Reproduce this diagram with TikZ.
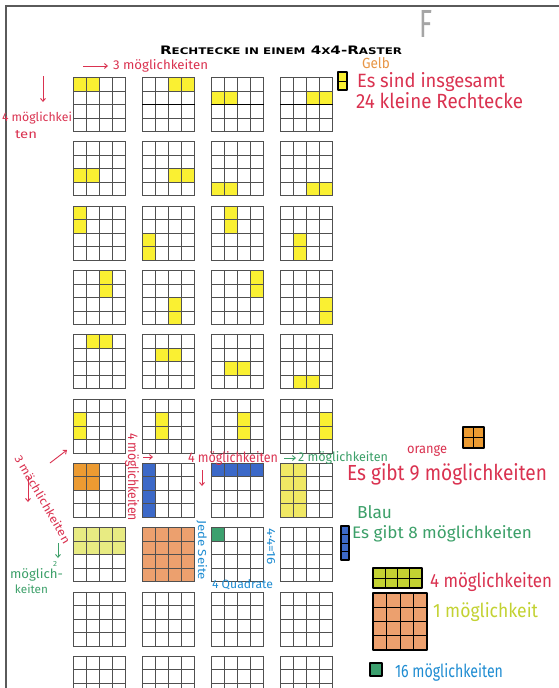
\documentclass[tikz,border=0pt]{standalone}
\usepackage{fontspec}
\setmainfont{Fira Sans}
\newfontfamily\titlefont{DejaVu Sans}
\usetikzlibrary{calc,arrows.meta}
\definecolor{gridc}{RGB}{80,80,80}
\definecolor{framec}{RGB}{90,90,90}
\definecolor{hy}{RGB}{250,240,50}
\definecolor{horange}{RGB}{236,155,50}
\definecolor{hblue}{RGB}{60,105,200}
\definecolor{hlyellow}{RGB}{240,232,100}
\definecolor{hpale}{RGB}{232,235,130}
\definecolor{horangeb}{RGB}{236,160,110}
\definecolor{hgreencell}{RGB}{60,160,110}
\definecolor{hred}{RGB}{218,50,80}
\definecolor{hgreen}{RGB}{60,160,105}
\definecolor{hbluet}{RGB}{30,140,210}
\definecolor{hgelb}{RGB}{232,150,70}
\definecolor{hlime}{RGB}{195,210,50}
\definecolor{hgray}{RGB}{165,165,165}
\newcommand\fitbox[3]{\resizebox{#1pt}{#2pt}{#3}}
\newcommand\hl[7]{\fill[#7] ({73.3+68.9*(#2)+13.125*(#3)},{77.5+64.3*(#1)+13.5*(#4)}) rectangle ({73.3+68.9*(#2)+13.125*(#5)},{77.5+64.3*(#1)+13.5*(#6)});}
\newcommand\smc[1]{{\fontsize{9}{10}\selectfont #1}}
\tikzset{
  gridbox/.style={draw=gridc, line width=0.8pt, minimum width=52.5pt, minimum height=54pt, inner sep=0pt, outer sep=0pt},
  gridline/.style={draw=gridc, line width=0.7pt},
  hw/.style={inner sep=0pt, outer sep=0pt, anchor=base west},
  harrow/.style={line width=0.9pt, -{Straight Barb[length=3pt,width=5pt]}},
  icon/.style={draw=black, line width=1.3pt, line join=round},
  iconline/.style={draw=black, line width=0.9pt}
}
\begin{document}
\begin{tikzpicture}[x=1pt,y=-1pt]
\useasboundingbox (0,0) rectangle (559,688);
\clip (0,0) rectangle (559,688);
\fill[white] (0,0) rectangle (559,688);
% frame
\draw[framec, line width=1.2pt] (6,688) -- (6,6) -- (559,6);
% title
\node[hw] (title) at (160,54) {\fitbox{242}{8.5}{\titlefont\bfseries\fontsize{11.5}{12}\selectfont R\smc{ECHTECKE IN EINEM} 4\smc{X}4-R\smc{ASTER}}};
\node[hw, text=hgray] (fmark) at (419,37) {\fitbox{13}{27}{F}};
% highlights
\hl{0}{0}{0}{0}{2}{1}{hy}\hl{0}{1}{2}{0}{4}{1}{hy}\hl{0}{2}{0}{1}{2}{2}{hy}\hl{0}{3}{2}{1}{4}{2}{hy}
\hl{1}{0}{0}{2}{2}{3}{hy}\hl{1}{1}{2}{2}{4}{3}{hy}\hl{1}{2}{0}{3}{2}{4}{hy}\hl{1}{3}{2}{3}{4}{4}{hy}
\hl{2}{0}{0}{0}{1}{2}{hy}\hl{2}{1}{0}{2}{1}{4}{hy}\hl{2}{2}{1}{0}{2}{2}{hy}\hl{2}{3}{1}{2}{2}{4}{hy}
\hl{3}{0}{2}{0}{3}{2}{hy}\hl{3}{1}{2}{2}{3}{4}{hy}\hl{3}{2}{3}{0}{4}{2}{hy}\hl{3}{3}{3}{2}{4}{4}{hy}
\hl{4}{0}{1}{0}{3}{1}{hy}\hl{4}{1}{1}{1}{3}{2}{hy}\hl{4}{2}{1}{2}{3}{3}{hy}\hl{4}{3}{1}{3}{3}{4}{hy}
\hl{5}{0}{0}{1}{1}{3}{hy}\hl{5}{1}{1}{1}{2}{3}{hy}\hl{5}{2}{2}{1}{3}{3}{hy}\hl{5}{3}{3}{1}{4}{3}{hy}
\hl{6}{0}{0}{0}{2}{2}{horange}\hl{6}{1}{0}{0}{1}{4}{hblue}\hl{6}{2}{0}{0}{4}{1}{hblue}\hl{6}{3}{0}{0}{2}{4}{hlyellow}
\hl{7}{0}{0}{0}{4}{2}{hpale}\hl{7}{1}{0}{0}{4}{4}{horangeb}\hl{7}{2}{0}{0}{1}{1}{hgreencell}
% grids
\foreach \r in {0,...,9}{\foreach \c in {0,...,3}{
  \node[gridbox] (g\r\c) at ({99.55+68.9*\c},{104.5+64.3*\r}) {};
  \foreach \i in {1,2,3}{
    \draw[gridline] ($(g\r\c.north west)!\i/4!(g\r\c.north east)$) -- ($(g\r\c.south west)!\i/4!(g\r\c.south east)$);
    \draw[gridline] ($(g\r\c.north west)!\i/4!(g\r\c.south west)$) -- ($(g\r\c.north east)!\i/4!(g\r\c.south east)$);
  }
}}
\foreach \c in {1,2,3}{\draw[black, line width=1.6pt] (g0\c.west) -- (g0\c.east);}
% top annotations
\coordinate (a1s) at (83,66); \coordinate (a1e) at (108,66);
\draw[hred, harrow] (a1s) -- (a1e);
\node[hw, text=hred] (t1) at (113,69) {\fitbox{95}{10}{3 möglichkeiten}};
\coordinate (a2s) at (43,76); \coordinate (a2e) at (43,102);
\draw[hred, harrow] (a2s) -- (a2e);
\node[hw, text=hred] (t2) at (2,121) {\fitbox{70}{9.5}{4 möglichkei}};
\node[hw, text=hred] (t3) at (15,138) {\fitbox{22}{8}{ten}};
% top right
\node[hw, text=hgelb] (gelb) at (362,68) {\fitbox{28}{11}{Gelb}};
\fill[hy] (338,72) rectangle (347,90);
\draw[icon] (338,72) rectangle (347,90);
\draw[iconline] (338,81) -- (347,81);
\node[hw, text=hred] (t5) at (357,87) {\fitbox{148}{15}{Es sind insgesamt}};
\node[hw, text=hred] (t6) at (356,108) {\fitbox{167}{16}{24 kleine Rechtecke}};
% left row 7 annotations
\node[hw, text=hred, rotate=-60] (t7) at (14,458) {\fitbox{100}{9}{3 mächlichkeiten}};
\coordinate (a3s) at (50,463); \coordinate (a3e) at (67,450);
\draw[hred, harrow] (a3s) -- (a3e);
\coordinate (a4s) at (28,477); \coordinate (a4e) at (28,502);
\draw[hred, harrow] (a4s) -- (a4e);
\node[hw, text=hred, rotate=-90] (t8) at (128,433) {\fitbox{88}{11}{4 möglichkeiten}};
\coordinate (a5s) at (143,457); \coordinate (a5e) at (153,457);
\draw[hred, harrow] (a5s) -- (a5e);
\node[hw, text=hred] (t10) at (188,462) {\fitbox{90}{11}{4 möglichkeiten}};
\coordinate (a6s) at (202,470); \coordinate (a6e) at (202,486);
\draw[hred, harrow] (a6s) -- (a6e);
\coordinate (a7s) at (284,458); \coordinate (a7e) at (296,458);
\draw[hgreen, harrow] (a7s) -- (a7e);
\node[hw, text=hgreen] (t12) at (298,461) {\fitbox{90}{10}{2 möglichkeiten}};
% right middle
\node[hw, text=hred] (t13) at (407,453) {\fitbox{40}{8}{orange}};
\fill[horange] (463,427) rectangle (484,448);
\draw[icon] (463,427) rectangle (484,448);
\draw[iconline] (473.5,427) -- (473.5,448) (463,437.5) -- (484,437.5);
\node[hw, text=hred] (t14) at (347,480) {\fitbox{200}{17}{Es gibt 9 möglichkeiten}};
\node[hw, text=hgreen] (t15) at (357,518) {\fitbox{35}{13}{Blau}};
\fill[hblue] (341,526) rectangle (349,560);
\draw[icon] (341,526) rectangle (349,560);
\draw[iconline] (341,534.5) -- (349,534.5) (341,543) -- (349,543) (341,551.5) -- (349,551.5);
\node[hw, text=hgreen] (t16) at (352,538) {\fitbox{180}{13}{Es gibt 8 möglichkeiten}};
% green left
\coordinate (a8s) at (58,543); \coordinate (a8e) at (58,558);
\draw[hgreen, harrow] (a8s) -- (a8e);
\node[hw, text=hgreen] (t20a) at (53,566) {\fitbox{4}{5}{2}};
\node[hw, text=hgreen] (t20b) at (10,578) {\fitbox{53}{10}{möglich-}};
\node[hw, text=hgreen] (t20c) at (15,593) {\fitbox{33}{9}{keiten}};
% blue annotations
\node[hw, text=hbluet, rotate=-90] (t21) at (198,520) {\fitbox{60}{9}{Jede Seite}};
\node[hw, text=hbluet, rotate=-90] (t22) at (267,528) {\fitbox{37}{8}{4·4=16}};
\node[hw, text=hbluet] (t23) at (212,588) {\fitbox{61}{9}{4 Quadrate}};
% bottom right icons
\fill[hlime] (373,568) rectangle (422,588);
\draw[icon] (373,568) rectangle (422,588);
\draw[iconline] (385.25,568) -- (385.25,588) (397.5,568) -- (397.5,588) (409.75,568) -- (409.75,588) (373,578) -- (422,578);
\node[hw, text=hred] (t17) at (430,587) {\fitbox{122}{15}{4 möglichkeiten}};
\fill[horangeb] (373,593) rectangle (427,650);
\draw[icon] (373,593) rectangle (427,650);
\draw[iconline] (386.5,593) -- (386.5,650) (400,593) -- (400,650) (413.5,593) -- (413.5,650)
  (373,607.25) -- (427,607.25) (373,621.5) -- (427,621.5) (373,635.75) -- (427,635.75);
\node[hw, text=hlime] (t18) at (433,617) {\fitbox{105}{15}{1 möglichkeit}};
\fill[hgreencell] (370,663) rectangle (382,676);
\draw[icon] (370,663) rectangle (382,676);
\node[hw, text=hbluet] (t19) at (395,677) {\fitbox{108}{14}{16 möglichkeiten}};
\end{tikzpicture}
\end{document}
